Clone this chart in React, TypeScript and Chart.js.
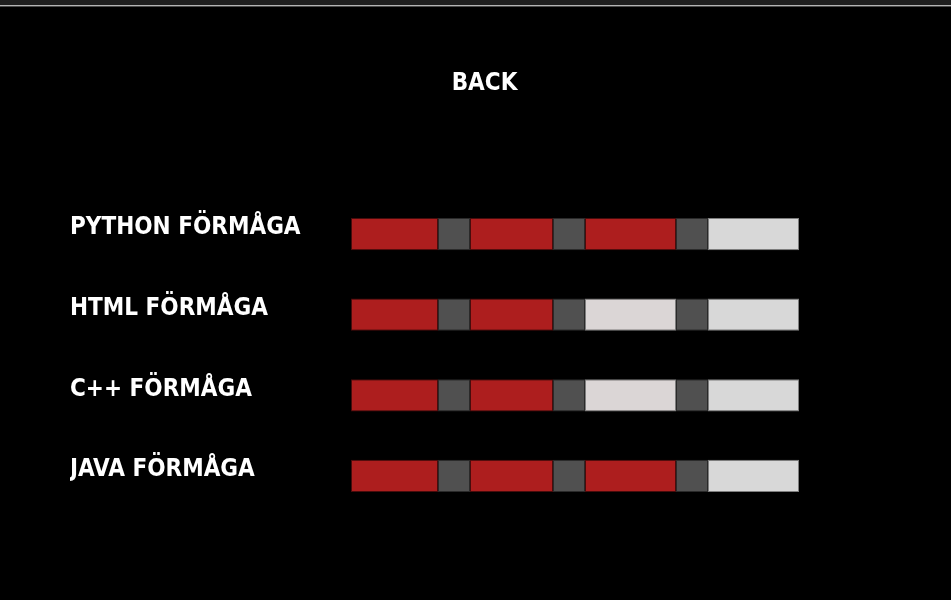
import React, { useEffect, useRef } from "react";
import { Chart, registerables } from "chart.js";

Chart.register(...registerables);

const title = "BACK";
const categories = ["PYTHON FÖRMÅGA", "HTML FÖRMÅGA", "C++ FÖRMÅGA", "JAVA FÖRMÅGA"];
// widths of the 7 segments of each bar: block, gap, block, gap, block, gap, block
const segmentWidths = [87, 32, 83, 32, 91, 32, 91];
// number of filled (red) blocks per skill, out of 4
const skillLevels = [3, 2, 2, 3];

const RED = "#ad1e1e";
const GAP = "#505050";
const EMPTY = ["#d8d8d8", "#d8d8d8", "#dbd6d6", "#d8d8d8"];
const FONT = "'DejaVu Sans Condensed', 'Liberation Sans Narrow', sans-serif";

export default function App() {
  const ref = useRef<HTMLCanvasElement | null>(null);

  useEffect(() => {
    if (!ref.current) return;
    const total = segmentWidths.reduce((a, b) => a + b, 0);
    const datasets = segmentWidths.map((w, j) => {
      const isGap = j % 2 === 1;
      const block = Math.floor(j / 2);
      const colors = skillLevels.map((lvl) =>
        isGap ? GAP : block < lvl ? RED : EMPTY[block]
      );
      return {
        label: isGap ? `gap ${block + 1}` : `block ${block + 1}`,
        data: categories.map(() => w),
        backgroundColor: colors,
        borderColor: colors.map((c) =>
          c === RED ? "rgba(120,20,20,0.6)" : c === GAP ? "rgba(70,70,70,0.6)" : "rgba(140,140,140,0.9)"
        ),
        borderWidth: 1,
        borderSkipped: false as const,
        categoryPercentage: 1,
        barPercentage: 0.4,
      };
    });

    const chart = new Chart(ref.current, {
      type: "bar",
      data: { labels: categories, datasets },
      options: {
        animation: false,
        responsive: true,
        maintainAspectRatio: false,
        indexAxis: "y",
        layout: { padding: { left: 70, right: 52, top: 0, bottom: 83.7 } },
        plugins: {
          legend: { display: false },
          tooltip: { enabled: false },
          title: {
            display: true,
            text: title,
            color: "#ffffff",
            font: { family: FONT, size: 24, weight: "bold" },
            padding: { top: 69.6, bottom: 95.3 },
          },
        },
        scales: {
          x: {
            stacked: true,
            display: false,
            min: 0,
            max: total + 100,
            grid: { display: false },
          },
          y: {
            stacked: true,
            grid: { display: false },
            border: { display: false },
            afterFit: (scale: any) => {
              scale.width = 281;
            },
            ticks: {
              color: "#ffffff",
              crossAlign: "far",
              padding: 0,
              labelOffset: -6,
              font: { family: FONT, size: 24, weight: "bold" },
            },
          },
        },
      },
    });
    return () => chart.destroy();
  }, []);

  return (
    <div
      style={{
        position: "absolute",
        left: 0,
        top: 0,
        width: 951,
        height: 600,
        background: "#000000",
        overflow: "hidden",
      }}
    >
      <canvas ref={ref} />
      <div style={{ position: "absolute", left: 0, top: 0, width: 951, height: 5, background: "#1e1e1e" }} />
      <div style={{ position: "absolute", left: 0, top: 5, width: 951, height: 1, background: "#b4b4b4" }} />
      <div style={{ position: "absolute", left: 0, top: 6, width: 951, height: 1, background: "#4a4a4a" }} />
    </div>
  );
}
